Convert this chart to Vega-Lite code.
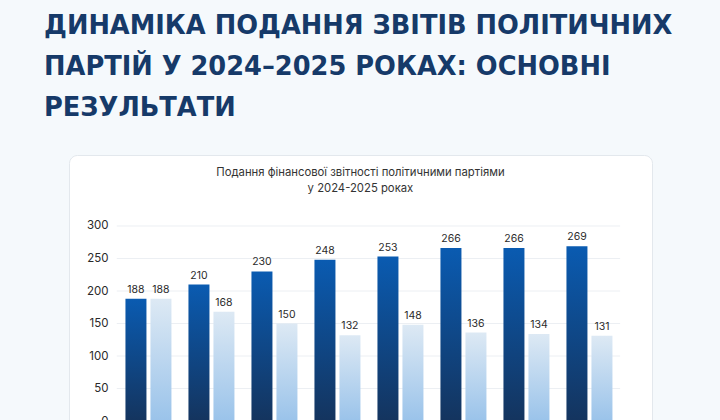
{
  "$schema": "https://vega.github.io/schema/vega-lite/v6.json",
  "autosize": "none",
  "width": 583,
  "height": 280,
  "padding": {"left": 69, "top": 155, "right": 68, "bottom": 0},
  "background": "#f5f9fc",
  "config": {
    "view": {"fill": "#ffffff", "stroke": "#e3e8ed", "strokeWidth": 1, "cornerRadius": 8},
    "font": "Inter"
  },
  "title": {
    "text": ["ДИНАМІКА ПОДАННЯ ЗВІТІВ ПОЛІТИЧНИХ", "ПАРТІЙ У 2024–2025 РОКАХ: ОСНОВНІ", "РЕЗУЛЬТАТИ"],
    "anchor": "start",
    "frame": "group",
    "font": "DejaVu Sans",
    "fontSize": 25.7,
    "fontWeight": "bold",
    "color": "#163a69",
    "lineHeight": 41,
    "dx": -25,
    "offset": 33
  },
  "datasets": {
    "bars": [
      {"quarter": "I кв. 2024", "series": "A", "value": 188},
      {"quarter": "I кв. 2024", "series": "B", "value": 188},
      {"quarter": "II кв. 2024", "series": "A", "value": 210},
      {"quarter": "II кв. 2024", "series": "B", "value": 168},
      {"quarter": "III кв. 2024", "series": "A", "value": 230},
      {"quarter": "III кв. 2024", "series": "B", "value": 150},
      {"quarter": "IV кв. 2024", "series": "A", "value": 248},
      {"quarter": "IV кв. 2024", "series": "B", "value": 132},
      {"quarter": "I кв. 2025", "series": "A", "value": 253},
      {"quarter": "I кв. 2025", "series": "B", "value": 148},
      {"quarter": "II кв. 2025", "series": "A", "value": 266},
      {"quarter": "II кв. 2025", "series": "B", "value": 136},
      {"quarter": "III кв. 2025", "series": "A", "value": 266},
      {"quarter": "III кв. 2025", "series": "B", "value": 134},
      {"quarter": "IV кв. 2025", "series": "A", "value": 269},
      {"quarter": "IV кв. 2025", "series": "B", "value": 131}
    ],
    "grid": [{"tick": 0}, {"tick": 50}, {"tick": 100}, {"tick": 150}, {"tick": 200}, {"tick": 250}, {"tick": 300}],
    "caption": [{"label": "Подання фінансової звітності політичними партіями\nу 2024-2025 роках"}]
  },
  "layer": [
    {
      "data": {"name": "grid"},
      "mark": {"type": "rule", "color": "#eceff3", "strokeWidth": 1, "xOffset": -8.7, "x2Offset": 7.7},
      "encoding": {
        "y": {
          "field": "tick",
          "type": "quantitative",
          "scale": {"domain": [-21.5, 409.2], "nice": false, "zero": false},
          "axis": {
            "values": [0, 50, 100, 150, 200, 250, 300],
            "grid": false,
            "domain": false,
            "ticks": false,
            "offset": -39,
            "labelPadding": 0,
            "labelFontSize": 11.5,
            "labelColor": "#2a2a2a",
            "labelFont": "Inter",
            "title": null
          }
        },
        "x": {
          "datum": "I кв. 2024",
          "bandPosition": 0,
          "scale": {
            "domain": ["I кв. 2024", "II кв. 2024", "III кв. 2024", "IV кв. 2024", "I кв. 2025", "II кв. 2025", "III кв. 2025", "IV кв. 2025"],
            "paddingInner": 0.27,
            "paddingOuter": 0.762,
            "align": 0.588
          },
          "axis": null
        },
        "x2": {"datum": "IV кв. 2025", "bandPosition": 1}
      }
    },
    {
      "data": {"name": "bars"},
      "transform": [{"filter": "datum.series === 'A'"}],
      "mark": {
        "type": "bar",
        "fill": {
          "gradient": "linear", "x1": 0, "y1": 0, "x2": 0, "y2": 1,
          "stops": [{"offset": 0, "color": "#0a5bb1"}, {"offset": 1, "color": "#14345e"}]
        }
      },
      "encoding": {
        "x": {"field": "quarter", "type": "nominal"},
        "y": {"field": "value", "type": "quantitative"},
        "xOffset": {"field": "series", "type": "nominal", "scale": {"domain": ["A", "B"], "paddingInner": 0.16}}
      }
    },
    {
      "data": {"name": "bars"},
      "transform": [{"filter": "datum.series === 'B'"}],
      "mark": {
        "type": "bar",
        "fill": {
          "gradient": "linear", "x1": 0, "y1": 0, "x2": 0, "y2": 1,
          "stops": [{"offset": 0, "color": "#dde9f4"}, {"offset": 1, "color": "#9ac3ea"}]
        }
      },
      "encoding": {
        "x": {"field": "quarter", "type": "nominal"},
        "y": {"field": "value", "type": "quantitative"},
        "xOffset": {"field": "series", "type": "nominal", "scale": {"domain": ["A", "B"], "paddingInner": 0.16}}
      }
    },
    {
      "data": {"name": "bars"},
      "mark": {"type": "text", "fontSize": 10.5, "color": "#2b2b2b", "baseline": "alphabetic", "dy": -6},
      "encoding": {
        "x": {"field": "quarter", "type": "nominal"},
        "y": {"field": "value", "type": "quantitative"},
        "xOffset": {"field": "series", "type": "nominal", "scale": {"domain": ["A", "B"], "paddingInner": 0.16}},
        "text": {"field": "value", "type": "quantitative"}
      }
    },
    {
      "data": {"name": "caption"},
      "mark": {"type": "text", "fontSize": 11.3, "color": "#333333", "baseline": "top", "lineBreak": "\n", "lineHeight": 16, "align": "center"},
      "encoding": {
        "x": {"datum": "IV кв. 2024", "bandPosition": 1},
        "y": {"datum": 390},
        "text": {"field": "label", "type": "nominal"}
      }
    }
  ]
}
